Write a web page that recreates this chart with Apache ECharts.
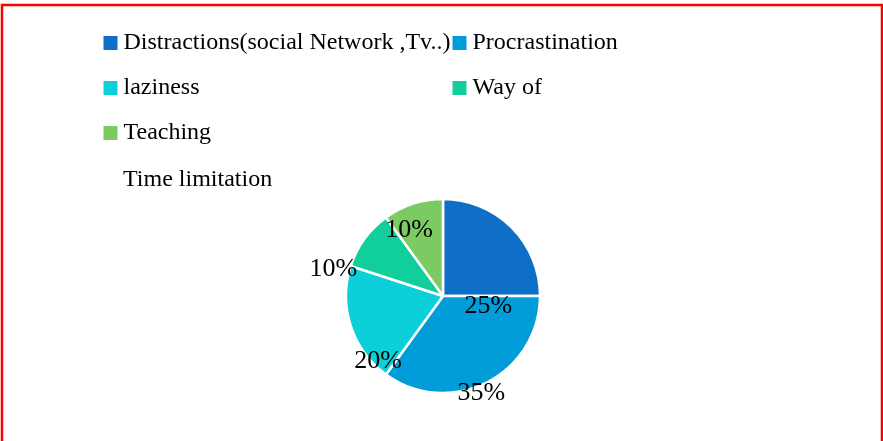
<!DOCTYPE html>
<html>
<head>
<meta charset="utf-8">
<script src="https://cdn.jsdelivr.net/npm/echarts@6/dist/echarts.min.js"></script>
<style>
  html, body { margin: 0; padding: 0; background: #ffffff; }
  #chart { width: 883px; height: 441px; }
</style>
</head>
<body>
<div id="chart"></div>
<script>
// Slice names (as shown in the legend) and their shares in percent
const categories = ['Distractions(social Network ,Tv..)', 'Procrastination', 'laziness', 'Way of', 'Teaching'];
const values = [25, 35, 20, 10, 10];
const extraLegendText = 'Time limitation';

// Office "Blue II" palette
const colors = ['#0F6FC6', '#009DD9', '#0BD0D9', '#10CF9B', '#7CCA62'];

// Legend placement per entry: [left, top]
const legendSpots = [[101.5, 31], [450.5, 31], [101.5, 76], [450.5, 76], [101.5, 121]];

// Label nudges from the default inside position of each slice
const labelOffsets = [[9, 47], [15, 51], [-16, 49], [-68, 3], [-18, -17]];

const serif = '"Liberation Serif", "Times New Roman", serif';

const chart = echarts.init(document.getElementById('chart'), null, { renderer: 'canvas' });

const legends = categories.map((name, i) => ({
  data: [name],
  left: legendSpots[i][0],
  top: legendSpots[i][1],
  orient: 'horizontal',
  padding: 0,
  itemWidth: 16,
  itemHeight: 16,
  icon: 'rect',
  selectedMode: false,
  textStyle: { fontFamily: serif, fontSize: 24, color: '#000000', padding: 0 }
}));

const option = {
  animation: false,
  backgroundColor: '#ffffff',
  color: colors,
  legend: legends,
  graphic: [
    {
      type: 'text',
      left: 123,
      top: 168,
      style: { text: extraLegendText, font: '24px ' + serif, fill: '#000000' }
    },
    {
      type: 'rect',
      shape: { x: 2, y: 5, width: 880, height: 470 },
      style: { fill: 'none', stroke: '#ff0000', lineWidth: 2.5 },
      silent: true
    }
  ],
  series: [
    {
      type: 'pie',
      center: [443, 296],
      radius: [0, 97],
      startAngle: 90,
      clockwise: true,
      avoidLabelOverlap: false,
      itemStyle: { borderColor: '#ffffff', borderWidth: 2.5 },
      label: {
        show: true,
        position: 'inside',
        formatter: '{c}%',
        fontFamily: serif,
        fontSize: 26,
        color: '#000000'
      },
      labelLine: { show: false },
      emphasis: { disabled: true },
      data: categories.map((name, i) => ({
        name: name,
        value: values[i],
        label: { offset: labelOffsets[i] }
      }))
    }
  ]
};

chart.setOption(option);
</script>
</body>
</html>
